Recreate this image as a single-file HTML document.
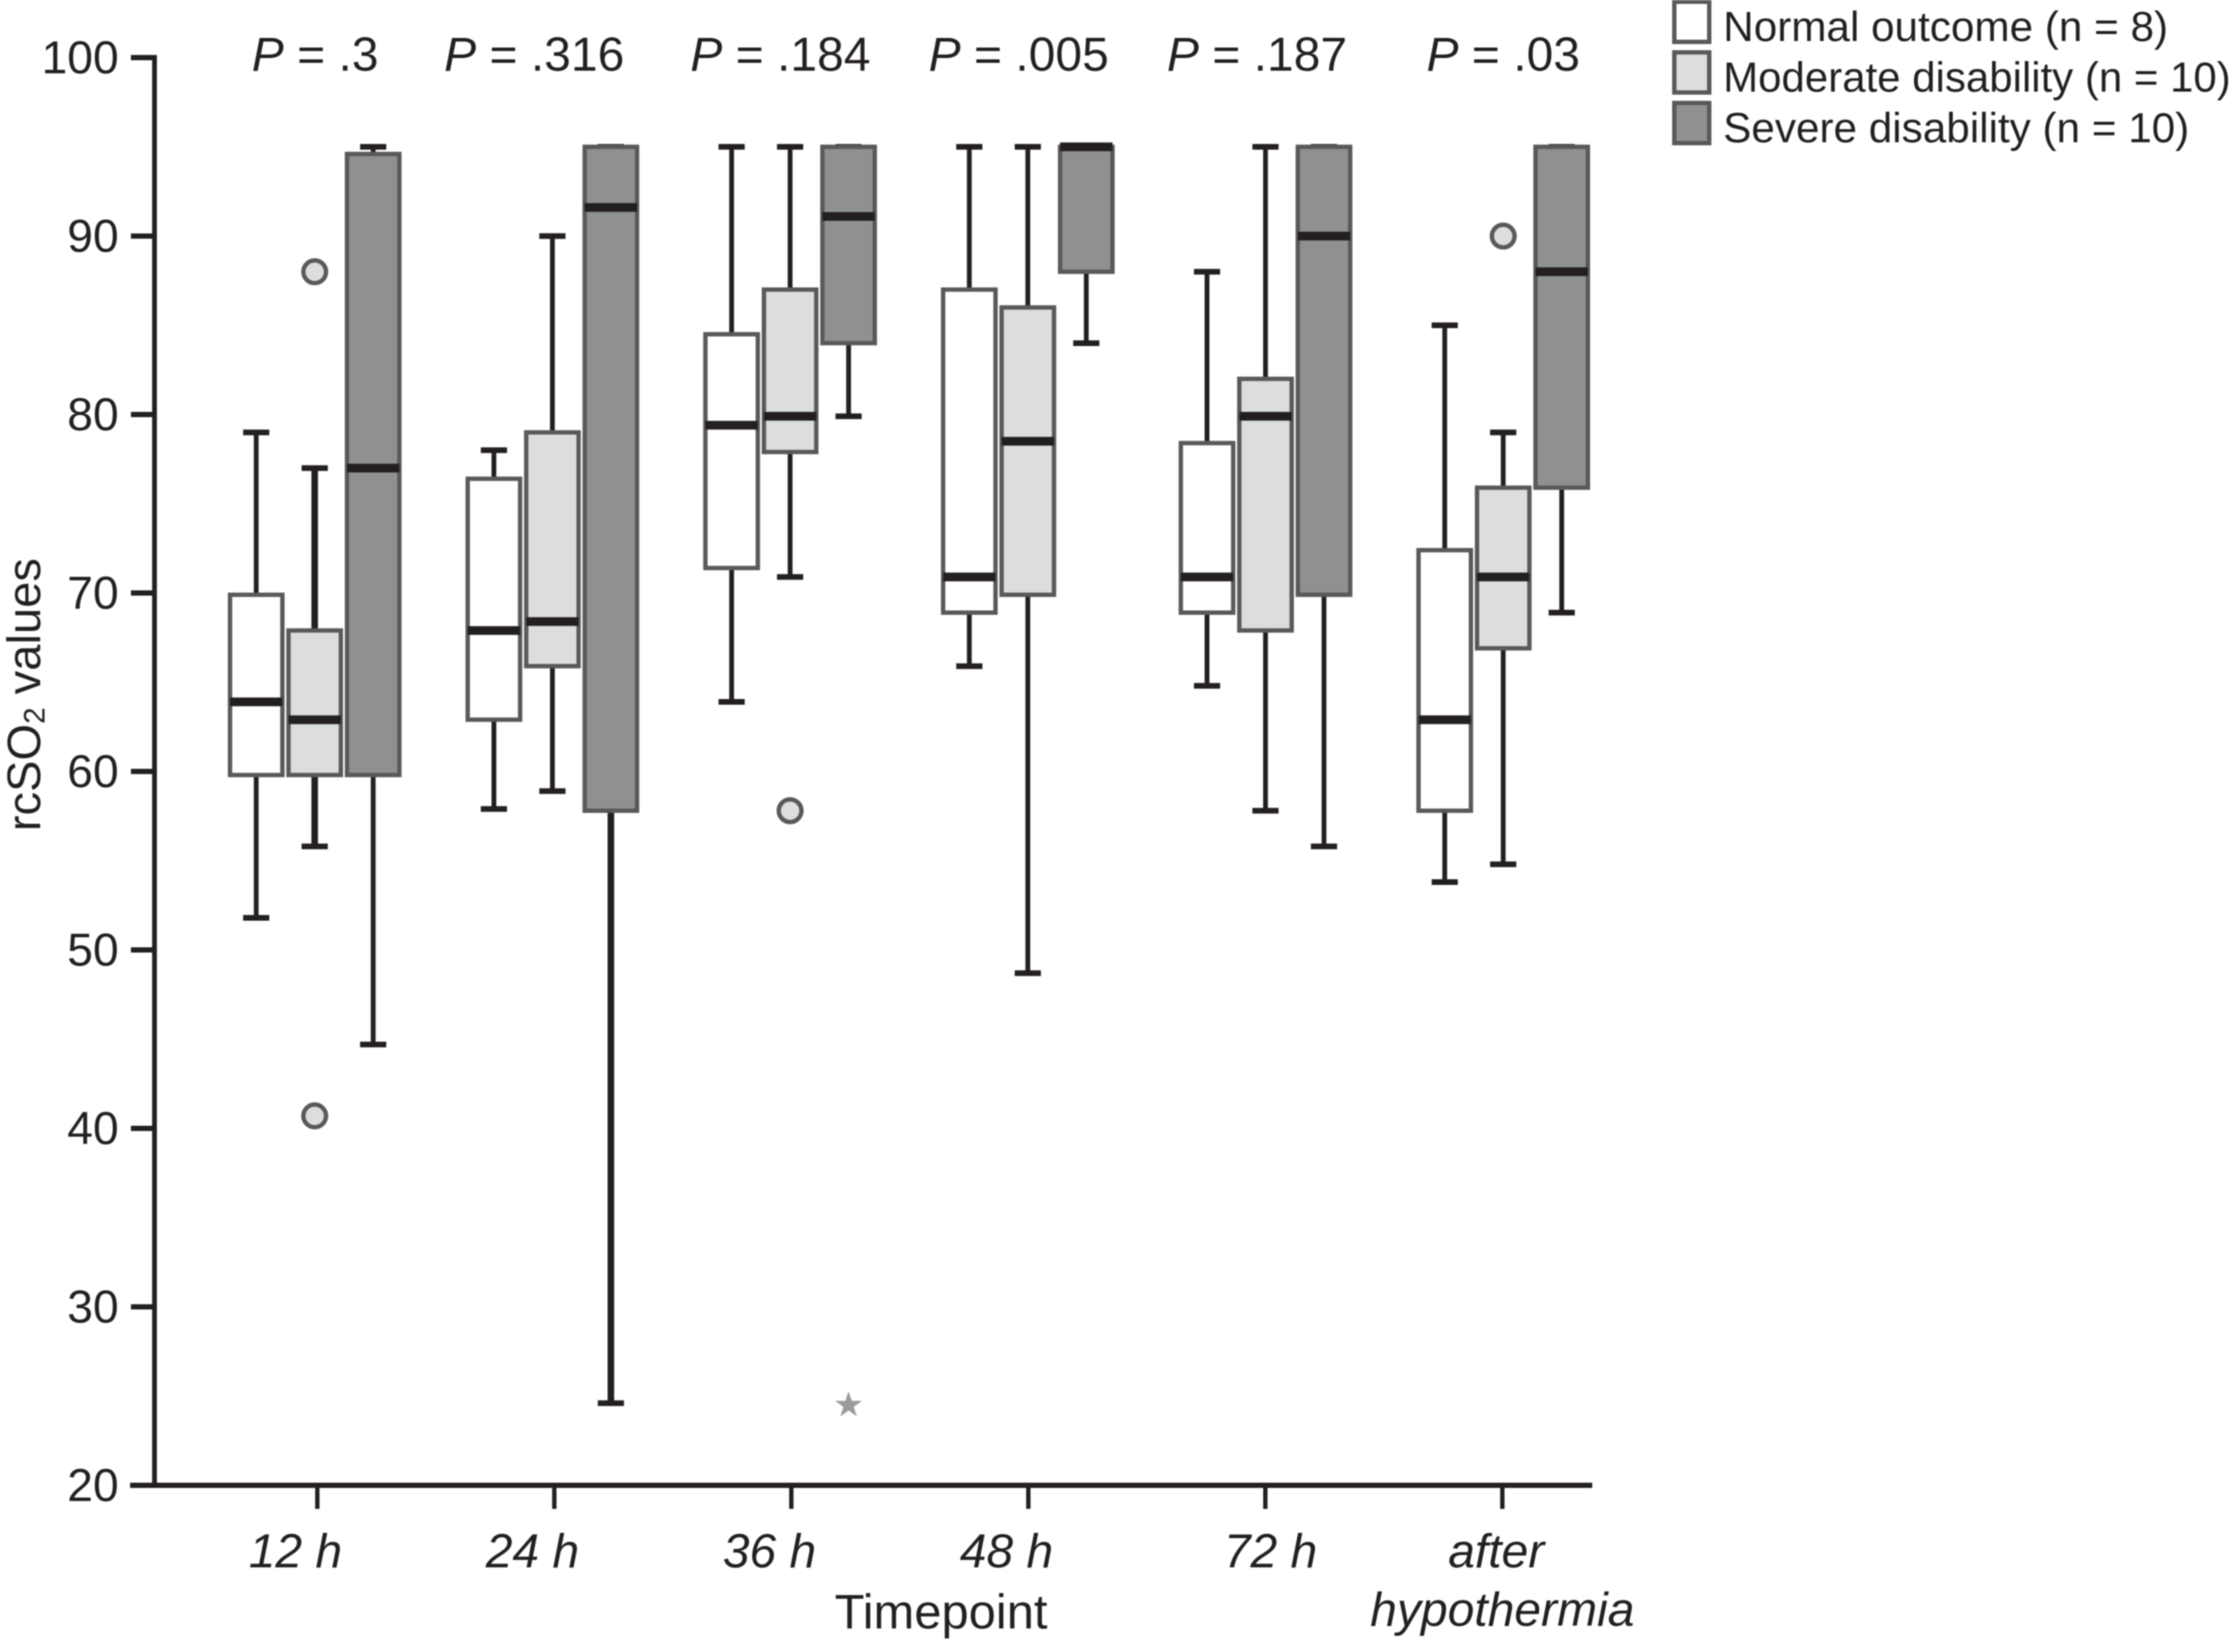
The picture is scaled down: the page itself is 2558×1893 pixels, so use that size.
<!DOCTYPE html>
<html lang="en">
<head>
<meta charset="utf-8">
<title>rcSO2 values by timepoint and outcome</title>
<style>
html,body{margin:0;padding:0;background:#fff;}
svg{display:block;filter:blur(0.7px);}
text{font-family:"Liberation Sans",sans-serif;fill:#231f20;font-size:55px;}
.it{font-style:italic;}
</style>
</head>
<body>
<svg id="chart" xmlns="http://www.w3.org/2000/svg" width="2558" height="1893" viewBox="0 0 2558 1893">
  <rect x="0" y="0" width="2558" height="1893" fill="#ffffff"/>
  <g id="plot"></g>
  <g id="axes"></g>
  <text transform="translate(46,796) rotate(-90)" text-anchor="middle" style="font-size:54px">rcSO<tspan font-size="34" dy="5">2</tspan><tspan dy="-5"> values</tspan></text>
  <text x="1078" y="1866" text-anchor="middle" style="font-size:56px">Timepoint</text>
  <text x="361" y="81" text-anchor="middle"><tspan class="it">P</tspan> = .3</text>
  <text x="612" y="81" text-anchor="middle"><tspan class="it">P</tspan> = .316</text>
  <text x="894" y="81" text-anchor="middle"><tspan class="it">P</tspan> = .184</text>
  <text x="1167" y="81" text-anchor="middle"><tspan class="it">P</tspan> = .005</text>
  <text x="1440" y="81" text-anchor="middle"><tspan class="it">P</tspan> = .187</text>
  <text x="1722" y="81" text-anchor="middle"><tspan class="it">P</tspan> = .03</text>
  <g>
    <g>
      <rect x="1918" y="2" width="40" height="46" fill="#ffffff" stroke="#58595b" stroke-width="5"/>
      <text x="1974" y="47" style="font-size:48.4px">Normal outcome (n = 8)</text>
    </g>
    <g>
      <rect x="1918" y="60" width="40" height="46" fill="#dcddde" stroke="#58595b" stroke-width="5"/>
      <text x="1974" y="105" style="font-size:48.1px">Moderate disability (n = 10)</text>
    </g>
    <g>
      <rect x="1918" y="118" width="40" height="46" fill="#8f9092" stroke="#58595b" stroke-width="5"/>
      <text x="1974" y="163" style="font-size:48.4px">Severe disability (n = 10)</text>
    </g>
  </g>
</svg>
<script>
const categories = ["12 h", "24 h", "36 h", "48 h", "72 h", "after"];
const yTickValues = [100, 90, 80, 70, 60, 50, 40, 30, 20];

const normalLow    = [51.8, 57.9, 63.9, 65.9, 64.8, 53.8];
const normalQ1     = [59.8, 62.9, 71.4, 68.9, 68.9, 57.8];
const normalMedian = [63.9, 67.9, 79.4, 70.9, 70.9, 62.9];
const normalQ3     = [69.9, 76.4, 84.5, 87, 78.4, 72.4];
const normalHigh   = [79, 78, 95, 95, 88, 85];

const moderateLow    = [55.8, 58.9, 70.9, 48.7, 57.8, 54.8];
const moderateQ1     = [59.8, 65.9, 77.9, 69.9, 67.9, 66.9];
const moderateMedian = [62.9, 68.4, 79.9, 78.5, 79.9, 70.9];
const moderateQ3     = [67.9, 79, 87, 86, 82, 75.9];
const moderateHigh   = [77, 90, 95, 95, 95, 79];

const severeLow    = [44.7, 24.6, 79.9, 84, 55.8, 68.9];
const severeQ1     = [59.8, 57.8, 84, 88, 69.9, 75.9];
const severeMedian = [77, 91.6, 91.1, 95, 90, 88];
const severeQ3     = [94.6, 95, 95, 95, 95, 95];
const severeHigh   = [95, 95, 95, 95, 95, 95];

const outlierCategory = [0, 0, 2, 5];
const outlierValue    = [88, 40.7, 57.8, 90];
const extremeCategory = [2];
const extremeValue    = [24.5];

const NS = "http://www.w3.org/2000/svg";
const plot = document.getElementById("plot");
const axes = document.getElementById("axes");
const INK = "#231f20";
const EDGE = "#58595b";
const heavyWhiskers = new Set(["moderate-0", "severe-1"]);

function yScale(v) { return 66 + (100 - v) * 20.45; }
function xCenter(i) { return 363.5 + 271.5 * i; }
function xBox(i, s) { return 360.5 + 272.3 * i + (s - 1) * 67; }

function make(tag, parent, attrs) {
  const el = document.createElementNS(NS, tag);
  for (const k in attrs) el.setAttribute(k, attrs[k]);
  parent.appendChild(el);
  return el;
}

function drawBox(i, s, key, fill, low, q1, med, q3, high) {
  const x = xBox(i, s), w = 60, capW = 30;
  const g = make("g", plot, {});
  
  
  const stemW = heavyWhiskers.has(key + "-" + i) ? 7.5 : 5.5;
  const stem = make("line", g, { x1: x, x2: x, y1: yScale(high), y2: yScale(low), stroke: INK, "stroke-width": stemW });
  
  
  const capTop = make("line", g, { x1: x - capW / 2, x2: x + capW / 2, y1: yScale(high), y2: yScale(high), stroke: INK, "stroke-width": 6.5 });
  
  
  const capLow = make("line", g, { x1: x - capW / 2, x2: x + capW / 2, y1: yScale(low), y2: yScale(low), stroke: INK, "stroke-width": 6.5 });
  
  
  const box = make("rect", g, { x: x - w / 2, y: yScale(q3), width: w, height: yScale(q1) - yScale(q3), fill: fill, stroke: EDGE, "stroke-width": 5 });
  
  
  const median = make("line", g, { x1: x - w / 2, x2: x + w / 2, y1: yScale(med), y2: yScale(med), stroke: INK, "stroke-width": 10 });
  
  
}

for (let i = 0; i < categories.length; i++) {
  drawBox(i, 0, "normal", "#ffffff", normalLow[i], normalQ1[i], normalMedian[i], normalQ3[i], normalHigh[i]);
  drawBox(i, 1, "moderate", "#dcddde", moderateLow[i], moderateQ1[i], moderateMedian[i], moderateQ3[i], moderateHigh[i]);
  drawBox(i, 2, "severe", "#8f9092", severeLow[i], severeQ1[i], severeMedian[i], severeQ3[i], severeHigh[i]);
}

for (let k = 0; k < outlierValue.length; k++) {
  const c = make("circle", plot, { cx: xBox(outlierCategory[k], 1), cy: yScale(outlierValue[k]), r: 13, fill: "#dcddde", stroke: EDGE, "stroke-width": 5 });
  
  
}

for (let k = 0; k < extremeValue.length; k++) {
  const st = make("text", plot, { x: xBox(extremeCategory[k], 2), y: yScale(extremeValue[k]) + 13, "text-anchor": "middle", style: "font-size:40px;fill:#9a9b9d" });
  st.textContent = "\u2605";
  
  
}

const yLine = make("line", axes, { x1: 177, x2: 177, y1: yScale(100) - 3, y2: yScale(20), stroke: INK, "stroke-width": 5.5 });


const xLine = make("line", axes, { x1: 149, x2: 1824, y1: yScale(20), y2: yScale(20), stroke: INK, "stroke-width": 6 });



yTickValues.forEach(function (v) {
  const t = make("line", axes, { x1: 150, x2: 177, y1: yScale(v), y2: yScale(v), stroke: INK, "stroke-width": 6 });
  
  
  const l = make("text", axes, { x: 136, y: yScale(v) + 18, "text-anchor": "end", style: "font-size:53px" });
  l.textContent = String(v);
  
  
});

categories.forEach(function (name, i) {
  const t = make("line", axes, { x1: xCenter(i), x2: xCenter(i), y1: yScale(20), y2: yScale(20) + 27, stroke: INK, "stroke-width": 5 });
  
  
  const nudge = i < 4 ? -25 : (i === 4 ? 6 : -7);
  const l = make("text", axes, { x: xCenter(i) + nudge, y: 1796, "text-anchor": "middle", "class": "it" });
  l.textContent = name;
  
  
  if (i === categories.length - 1) {
    const l2 = make("text", axes, { x: xCenter(i), y: 1863, "text-anchor": "middle", "class": "it" });
    l2.textContent = "hypothermia";
    
    
  }
});
</script>
</body>
</html>
